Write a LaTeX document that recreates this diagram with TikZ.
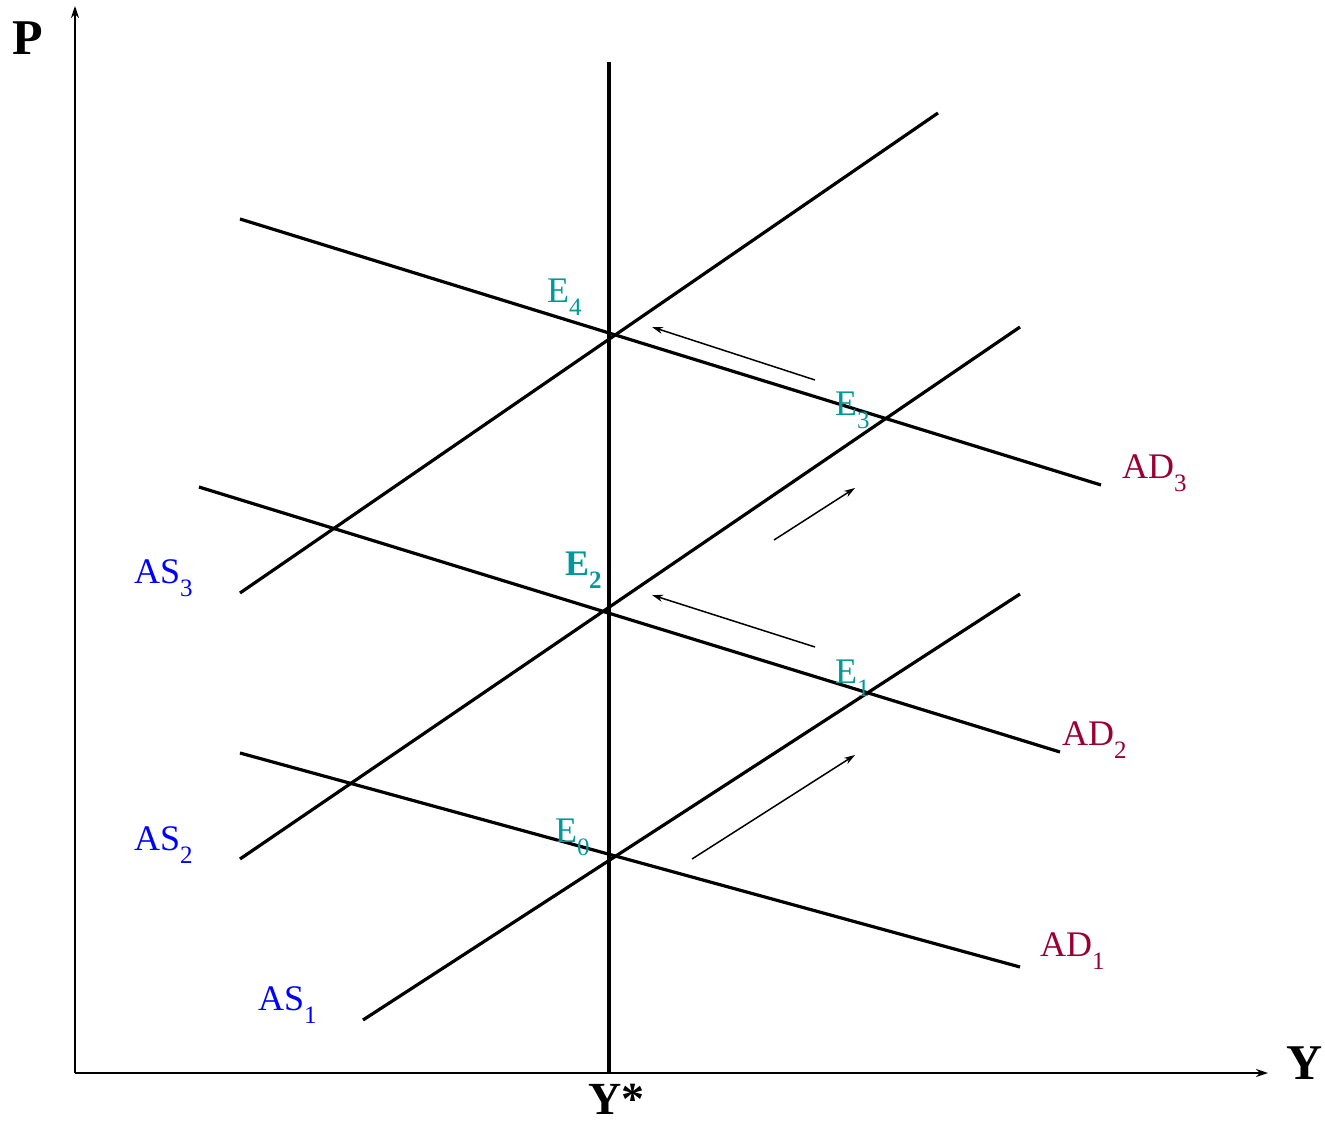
\documentclass[tikz,border=0pt]{standalone}
\usepackage{fontspec}
\setmainfont{Liberation Serif}
\usetikzlibrary{arrows.meta}
\definecolor{asblue}{RGB}{0,0,255}
\definecolor{admaroon}{RGB}{153,0,51}
\definecolor{eteal}{RGB}{0,153,153}
\newcommand\mysb[1]{\raisebox{-13pt}{\fontsize{25}{25}\selectfont #1}}
\begin{document}
\begin{tikzpicture}[x=1pt,y=-1pt,
  curve/.style={line width=3.2pt},
  axis/.style={line width=1.5pt,-{Stealth[length=12pt,width=8pt]}},
  movearrow/.style={line width=1.5pt,-{Stealth[length=11pt,width=7pt]}},
  lab/.style={anchor=base west,inner sep=0pt,font=\fontsize{36}{36}\selectfont},
  big/.style={anchor=base west,inner sep=0pt,font=\fontsize{50}{50}\selectfont\bfseries},
]
\useasboundingbox (0,0) rectangle (1325,1129);
% axes
\coordinate (O) at (75,1073);
\coordinate (Ptop) at (75,6);
\coordinate (Yend) at (1268,1073);
\draw[axis] (O) -- (Ptop);
\draw[axis] (O) -- (Yend);
% long-run vertical
\coordinate (Vt) at (609,62);
\coordinate (Vb) at (609,1073);
\draw[curve] (Vt) -- (Vb);
% AS curves
\coordinate (as1a) at (363,1020); \coordinate (as1b) at (1020,594);
\coordinate (as2a) at (240,859);  \coordinate (as2b) at (1020,327);
\coordinate (as3a) at (240,593);  \coordinate (as3b) at (938,113);
\draw[curve] (as1a) -- (as1b);
\draw[curve] (as2a) -- (as2b);
\draw[curve] (as3a) -- (as3b);
% AD curves
\coordinate (ad1a) at (240,753); \coordinate (ad1b) at (1020,967);
\coordinate (ad2a) at (199,487); \coordinate (ad2b) at (1060,752);
\coordinate (ad3a) at (240,219); \coordinate (ad3b) at (1101,485);
\draw[curve] (ad1a) -- (ad1b);
\draw[curve] (ad2a) -- (ad2b);
\draw[curve] (ad3a) -- (ad3b);
% shift arrows
\coordinate (s1a) at (692,859); \coordinate (s1b) at (855,755);
\coordinate (s2a) at (815,647); \coordinate (s2b) at (652,595);
\coordinate (s3a) at (774,540); \coordinate (s3b) at (855,488);
\coordinate (s4a) at (815,380); \coordinate (s4b) at (652,327);
\draw[movearrow] (s1a) -- (s1b);
\draw[movearrow] (s2a) -- (s2b);
\draw[movearrow] (s3a) -- (s3b);
\draw[movearrow] (s4a) -- (s4b);
% labels
\node[big] (P) at (12,55) {P};
\node[big] (Y) at (1286,1079) {Y};
\node[big,font=\fontsize{46}{46}\selectfont\bfseries] (Ys) at (588,1114) {Y*};
\node[lab,text=asblue] (AS1) at (258,1010) {AS\mysb{1}};
\node[lab,text=asblue] (AS2) at (134,850) {AS\mysb{2}};
\node[lab,text=asblue] (AS3) at (134,583) {AS\mysb{3}};
\node[lab,text=admaroon] (AD1) at (1040,956) {AD\mysb{1}};
\node[lab,text=admaroon] (AD2) at (1062,745) {AD\mysb{2}};
\node[lab,text=admaroon] (AD3) at (1122,478) {AD\mysb{3}};
\node[lab,text=eteal] (E0) at (555,842) {E\mysb{0}};
\node[lab,text=eteal] (E1) at (835,683) {E\mysb{1}};
\node[lab,text=eteal,font=\fontsize{36}{36}\selectfont\bfseries] (E2) at (565,575) {E\mysb{\bfseries 2}};
\node[lab,text=eteal] (E3) at (835,415) {E\mysb{3}};
\node[lab,text=eteal] (E4) at (547,302) {E\mysb{4}};
\end{tikzpicture}
\end{document}
